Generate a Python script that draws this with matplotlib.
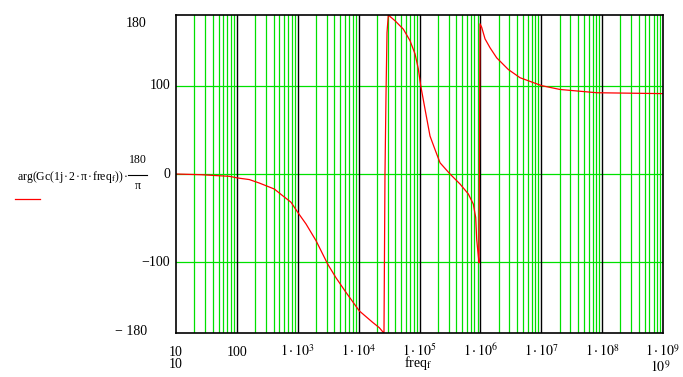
import matplotlib
matplotlib.use("Agg")
import matplotlib.pyplot as plt

plt.rcParams["font.family"] = ["Liberation Serif", "DejaVu Serif"]
plt.rcParams["mathtext.fontset"] = "stix"

# phase of Gc (frequency in Hz, phase in degrees)
freq = [10, 25.8, 48.4, 75.2, 103, 160, 233, 412, 566, 775, 1000, 1368,
        1997, 3105, 4250, 6200, 10270, 17030, 21870, 24820, 26100, 27100,
        28180, 29250, 30740, 39600, 54200, 69800, 84400, 95600, 104700,
        123100, 148800, 179800, 217400, 317000, 462600, 633500, 765300,
        837800, 870000, 925000, 949000, 986000, 1052000, 1192000, 1439000,
        1854000, 2877000, 4480000, 1.017e7, 2.03e7, 8.15e7, 1e9]
phase = [0, -0.8, -1.9, -2.6, -4.5, -6.3, -10.2, -17, -24.6, -32, -43.4,
         -56.6, -75.5, -102, -117.5, -134, -155, -168, -174, -178.5, -180,
         0, 90, 160, 180, 173.5, 164, 151, 136, 119, 100, 73.6, 43, 27.7,
         12.7, 0, -11.3, -22.6, -34, -49.2, -74, -92.8, -100.5, 170, 166,
         153, 143, 131.5, 118.3, 109, 100, 95.7, 92, 91]

decades = [10, 100, 1e3, 1e4, 1e5, 1e6, 1e7, 1e8, 1e9]
x_labels = ["10", "100", r"$1\cdot10^{3}$", r"$1\cdot10^{4}$", r"$1\cdot10^{5}$",
            r"$1\cdot10^{6}$", r"$1\cdot10^{7}$", r"$1\cdot10^{8}$", r"$1\cdot10^{9}$"]
y_ticks = [180, 100, 0, -100, -180]
y_labels = ["180", "100", "0", "\u2212100", "\u2212 180"]

green = "#00e000"
W, H = 683, 377

fig = plt.figure(figsize=(6.83, 3.77), dpi=100)
ax = fig.add_axes([176 / W, 44 / H, 487 / W, 318 / H])
ax.set_xscale("log")
ax.set_xlim(10, 1e9)
ax.set_ylim(-180, 180)

# grid: green minor decades, black major decades, green horizontals
for k in range(1, 9):
    for m in range(2, 10):
        ax.axvline(m * 10 ** k, color=green, lw=0.9, zorder=1)
for d in decades[1:-1]:
    ax.axvline(d, color="black", lw=1.0, zorder=1.5)
for yv in [100, 0, -100]:
    ax.axhline(yv, color=green, lw=0.9, zorder=1)

ax.plot(freq, phase, color="red", lw=0.9, zorder=3)

ax.set_xticks([])
ax.set_yticks([])
ax.minorticks_off()
for s in ax.spines.values():
    s.set_linewidth(1.2)
    s.set_zorder(4)

for f, lbl in zip(decades, x_labels):
    ax.annotate(lbl, xy=(f, 0), xycoords=("data", "axes fraction"),
                xytext=(0, -16.5), textcoords="offset points",
                ha="center", va="baseline", fontsize=10)
ax.annotate("10", xy=(10, 0), xycoords=("data", "axes fraction"),
            xytext=(0, -25.5), textcoords="offset points",
            ha="center", va="baseline", fontsize=10)
ax.annotate(r"$10^{9}$", xy=(1e9, 0), xycoords=("data", "axes fraction"),
            xytext=(-2, -28), textcoords="offset points",
            ha="center", va="baseline", fontsize=10)

# limits sit further left than the inner tick labels
y_dx = [-21, -4.3, -4.3, -4.3, -21]
y_dy = [-6, 0, 0, 0, 1]
for yv, lbl, dx, dy in zip(y_ticks, y_labels, y_dx, y_dy):
    ax.annotate(lbl, xy=(0, yv), xycoords=("axes fraction", "data"),
                xytext=(dx, dy), textcoords="offset points",
                ha="right", va="center", fontsize=10)

ax.annotate(r"freq$_{\mathrm{f}}$", xy=(0.5, 0), xycoords="axes fraction",
            xytext=(-1, -24.5), textcoords="offset points",
            ha="center", va="baseline", fontsize=10)

# y-axis expression, with the 180/pi fraction built by hand
sp = "\u200a\u00b7\u200a"
ylab = "arg(Gc(1j" + sp + "2" + sp + "\u03c0" + sp + r"freq$_{\mathrm{f}}$))" + sp
fig.text(17 / W, 1 - 180 / H, ylab, ha="left", va="baseline", fontsize=8.5)
fig.text(137.5 / W, 1 - 163 / H, "180", ha="center", va="baseline", fontsize=8.5)
fig.text(137.5 / W, 1 - 189 / H, "\u03c0", ha="center", va="baseline", fontsize=8.5)
fig.add_artist(plt.Line2D([128 / W, 147 / W], [1 - 175 / H] * 2,
                          color="black", lw=0.8))
fig.add_artist(plt.Line2D([15 / W, 40 / W], [1 - 199 / H] * 2,
                          color="red", lw=0.9))

fig.savefig("out.png", dpi=100)
